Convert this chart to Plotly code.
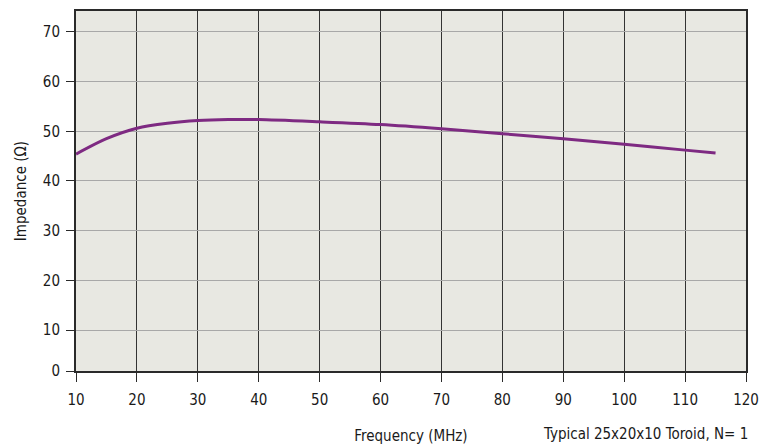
import plotly.graph_objects as go

# Data
freq_mhz = [10, 15, 20, 25, 30, 35, 40, 50, 60, 70, 80, 90, 100, 110, 115]
impedance = [45.4, 48.5, 50.6, 51.6, 52.15, 52.35, 52.35, 51.9, 51.35, 50.5, 49.5, 48.5, 47.4, 46.2, 45.6]

x_ticks = [10, 20, 30, 40, 50, 60, 70, 80, 90, 100, 110, 120]
y_ticks = [10, 20, 30, 40, 50, 60, 70]
y_tick_labels = ["10", "20", "30", "40", "50", "60", "70"]

Y_BOTTOM = 1.75   # axis floor (labelled "0" in the original)
Y_TOP = 74.2

FONT = "DejaVu Sans Condensed, DejaVu Sans, sans-serif"
TXT = "#1a1a1a"

fig = go.Figure()
fig.add_trace(go.Scatter(
    x=freq_mhz, y=impedance, mode="lines",
    line=dict(color="#7e2a82", width=3, shape="spline", smoothing=0.8),
    hoverinfo="skip", showlegend=False,
))

# the page body adds an 8px offset, margins compensate for it
fig.update_layout(
    width=775, height=448,
    margin=dict(l=68, r=37, t=3, b=85),
    paper_bgcolor="white",
    plot_bgcolor="#e8e8e2",
    font=dict(family=FONT, size=15, color=TXT),
    xaxis=dict(
        range=[10, 120], tickvals=x_ticks,
        showgrid=True, gridcolor="#333333", gridwidth=1,
        showline=True, linecolor="#2a2a2a", linewidth=2, mirror=True,
        ticks="outside", ticklen=9, tickcolor="#2a2a2a", tickwidth=1,
        ticklabelstandoff=5, automargin=False,
        zeroline=False,
        title=dict(text="Frequency (MHz)", font=dict(size=15, family=FONT, color=TXT), standoff=22),
    ),
    yaxis=dict(
        range=[Y_BOTTOM, Y_TOP],
        tickvals=[Y_BOTTOM] + y_ticks, ticktext=["0"] + y_tick_labels,
        showgrid=True, gridcolor="#a8a8a8", gridwidth=1,
        showline=True, linecolor="#2a2a2a", linewidth=2, mirror=True,
        ticks="outside", ticklen=8, tickcolor="#2a2a2a", tickwidth=1,
        ticklabelstandoff=3, automargin=False,
        zeroline=False,
        title=dict(text="Impedance (Ω)", font=dict(size=15, family=FONT, color=TXT), standoff=13),
    ),
    annotations=[dict(
        text="Typical 25x20x10 Toroid, N= 1",
        xref="paper", yref="paper", x=1.006, y=-0.175,
        xanchor="right", yanchor="middle", showarrow=False,
        font=dict(size=15, family=FONT, color=TXT),
    )],
)

fig.write_html("out.html")
